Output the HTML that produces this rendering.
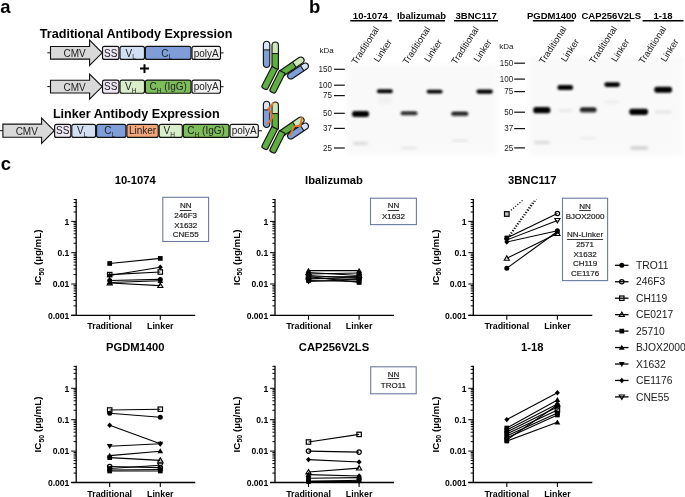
<!DOCTYPE html>
<html><head><meta charset="utf-8"><style>
html,body{margin:0;padding:0;background:#fff;width:685px;height:497px;overflow:hidden}
svg{display:block;will-change:transform}
text{font-family:"Liberation Sans", sans-serif}
</style></head><body>
<svg width="685" height="497" viewBox="0 0 685 497" font-family='"Liberation Sans", sans-serif'>
<text x="0.2" y="13.1" font-size="18.5" font-weight="bold">a</text>
<text x="309" y="12.9" font-size="18.5" font-weight="bold">b</text>
<text x="0.8" y="169.6" font-size="18.5" font-weight="bold">c</text>
<text x="39.8" y="37.5" font-size="12.6" font-weight="bold">Traditional Antibody Expression</text>
<text x="52.9" y="117.8" font-size="12.6" font-weight="bold">Linker Antibody Expression</text>
<line x1="47.3" y1="52.8" x2="50.5" y2="52.8" stroke="#111" stroke-width="1"/>
<path d="M50.5,46.449999999999996 L89.6,46.449999999999996 L89.6,40.199999999999996 L102.2,52.8 L89.6,65.39999999999999 L89.6,59.15 L50.5,59.15 Z" fill="#d9d9d9" stroke="#111" stroke-width="1.1" stroke-linejoin="miter"/>
<text x="74.55" y="57.0" font-size="10" text-anchor="middle" fill="#222">CMV</text>
<rect x="102.5" y="46.4" width="16.400000000000006" height="13.0" rx="2" ry="2" fill="#ece6f3" stroke="#111" stroke-width="1.15"/>
<text x="110.7" y="56.5" font-size="10" text-anchor="middle" fill="#222">SS</text>
<rect x="120" y="46.4" width="24.5" height="13.0" rx="2" ry="2" fill="#d3dff2" stroke="#111" stroke-width="1.15"/>
<text x="130.75" y="56.5" font-size="10" text-anchor="middle" fill="#222">V<tspan font-size="6.5" dy="2.2">L</tspan></text>
<rect x="145.4" y="46.4" width="45.599999999999994" height="13.0" rx="2" ry="2" fill="#7f9ed9" stroke="#111" stroke-width="1.15"/>
<text x="166.7" y="56.5" font-size="10" text-anchor="middle" fill="#222">C<tspan font-size="6.5" dy="2.2">L</tspan></text>
<rect x="192" y="46.4" width="28.5" height="13.0" rx="2" ry="2" fill="#f3f3f3" stroke="#111" stroke-width="1.15"/>
<text x="206.25" y="56.5" font-size="10" text-anchor="middle" fill="#222">polyA</text>
<line x1="220.5" y1="52.9" x2="223.6" y2="52.9" stroke="#111" stroke-width="1"/>
<path d="M140,67.6 H149 V69.6 H140 Z M143.5,64.2 H145.5 V72.9 H143.5 Z" fill="#000"/>
<line x1="47.3" y1="86.6" x2="50.5" y2="86.6" stroke="#111" stroke-width="1"/>
<path d="M50.5,80.25 L89.6,80.25 L89.6,74.0 L102.2,86.6 L89.6,99.19999999999999 L89.6,92.94999999999999 L50.5,92.94999999999999 Z" fill="#d9d9d9" stroke="#111" stroke-width="1.1" stroke-linejoin="miter"/>
<text x="74.55" y="90.8" font-size="10" text-anchor="middle" fill="#222">CMV</text>
<rect x="102.5" y="80.1" width="16.400000000000006" height="13.200000000000003" rx="2" ry="2" fill="#ece6f3" stroke="#111" stroke-width="1.15"/>
<text x="110.7" y="90.29999999999998" font-size="10" text-anchor="middle" fill="#222">SS</text>
<rect x="120" y="80.1" width="24.5" height="13.200000000000003" rx="2" ry="2" fill="#dbeecb" stroke="#111" stroke-width="1.15"/>
<text x="130.75" y="90.29999999999998" font-size="10" text-anchor="middle" fill="#222">V<tspan font-size="6.5" dy="2.2">H</tspan></text>
<rect x="145.4" y="80.1" width="45.6" height="13.2" rx="2" fill="#7dbd5c" stroke="#111" stroke-width="1.15"/>
<text x="168.2" y="90.3" font-size="10" text-anchor="middle" fill="#222">C<tspan font-size="6.5" dy="2.2">H</tspan><tspan dy="-2.2"> (IgG)</tspan></text>
<rect x="192" y="80.1" width="28.5" height="13.200000000000003" rx="2" ry="2" fill="#f3f3f3" stroke="#111" stroke-width="1.15"/>
<text x="206.25" y="90.29999999999998" font-size="10" text-anchor="middle" fill="#222">polyA</text>
<line x1="220.5" y1="86.7" x2="223.6" y2="86.7" stroke="#111" stroke-width="1"/>
<line x1="0" y1="130.7" x2="2.9" y2="130.7" stroke="#111" stroke-width="1"/>
<path d="M2.9,124.14999999999999 L41.6,124.14999999999999 L41.6,118.04999999999998 L54.2,130.7 L41.6,143.35 L41.6,137.25 L2.9,137.25 Z" fill="#d9d9d9" stroke="#111" stroke-width="1.1" stroke-linejoin="miter"/>
<text x="26.75" y="134.89999999999998" font-size="10" text-anchor="middle" fill="#222">CMV</text>
<rect x="54.6" y="124.3" width="16.199999999999996" height="13.100000000000009" rx="2" ry="2" fill="#ece6f3" stroke="#111" stroke-width="1.15"/>
<text x="62.7" y="134.45" font-size="10" text-anchor="middle" fill="#222">SS</text>
<rect x="71.8" y="124.3" width="23.799999999999997" height="13.100000000000009" rx="2" ry="2" fill="#d3dff2" stroke="#111" stroke-width="1.15"/>
<text x="82.19999999999999" y="134.45" font-size="10" text-anchor="middle" fill="#222">V<tspan font-size="6.5" dy="2.2">L</tspan></text>
<rect x="96.6" y="124.3" width="29.30000000000001" height="13.100000000000009" rx="2" ry="2" fill="#7f9ed9" stroke="#111" stroke-width="1.15"/>
<text x="109.75" y="134.45" font-size="10" text-anchor="middle" fill="#222">C<tspan font-size="6.5" dy="2.2">L</tspan></text>
<rect x="126.9" y="124.3" width="31.299999999999983" height="13.100000000000009" rx="2" ry="2" fill="#f2a77a" stroke="#111" stroke-width="1.15"/>
<text x="142.55" y="134.45" font-size="10" text-anchor="middle" fill="#222">Linker</text>
<rect x="159.2" y="124.3" width="23.100000000000023" height="13.100000000000009" rx="2" ry="2" fill="#dbeecb" stroke="#111" stroke-width="1.15"/>
<text x="169.25" y="134.45" font-size="10" text-anchor="middle" fill="#222">V<tspan font-size="6.5" dy="2.2">H</tspan></text>
<rect x="183.3" y="124.3" width="45.7" height="13.1" rx="2" fill="#7dbd5c" stroke="#111" stroke-width="1.15"/>
<text x="206.1" y="134.4" font-size="10" text-anchor="middle" fill="#222">C<tspan font-size="6.5" dy="2.2">H</tspan><tspan dy="-2.2"> (IgG)</tspan></text>
<rect x="230" y="124.3" width="28.30000000000001" height="13.100000000000009" rx="2" ry="2" fill="#f3f3f3" stroke="#111" stroke-width="1.15"/>
<text x="244.15" y="134.45" font-size="10" text-anchor="middle" fill="#222">polyA</text>
<line x1="258.3" y1="130.8" x2="262" y2="130.8" stroke="#111" stroke-width="1"/>
<g transform="translate(266.60,54.35) rotate(0)"><clipPath id="cp1"><path d="M-3.2,-9.95 A3.2,3.2 0 0 1 0.00,-13.15 H0.00 A3.2,3.2 0 0 1 3.20,-9.95 V9.95 A3.2,3.2 0 0 1 0.00,13.15 H0.00 A3.2,3.2 0 0 1 -3.20,9.95 Z"/></clipPath><rect x="-3.2" y="-13.15" width="6.4" height="8.70" fill="#d7e3f6" clip-path="url(#cp1)"/><rect x="-3.2" y="-4.47" width="6.4" height="17.64" fill="#7f9fd8" clip-path="url(#cp1)"/><line x1="-3.2" y1="-4.47" x2="3.2" y2="-4.47" stroke="#111" stroke-width="1"/><path d="M-3.2,-9.95 A3.2,3.2 0 0 1 0.00,-13.15 H0.00 A3.2,3.2 0 0 1 3.20,-9.95 V9.95 A3.2,3.2 0 0 1 0.00,13.15 H0.00 A3.2,3.2 0 0 1 -3.20,9.95 Z" fill="none" stroke="#111" stroke-width="1.15"/></g>
<g transform="translate(275.20,55.60) rotate(0)"><clipPath id="cp2"><path d="M-3.2,-10.40 A3.2,3.2 0 0 1 0.00,-13.60 H0.00 A3.2,3.2 0 0 1 3.20,-10.40 V13.30 A0.3,0.3 0 0 1 2.90,13.60 H-2.90 A0.3,0.3 0 0 1 -3.20,13.30 Z"/></clipPath><rect x="-3.2" y="-13.60" width="6.4" height="11.61" fill="#cbe7b7" clip-path="url(#cp2)"/><rect x="-3.2" y="-2.01" width="6.4" height="15.63" fill="#5fae40" clip-path="url(#cp2)"/><line x1="-3.2" y1="-2.01" x2="3.2" y2="-2.01" stroke="#111" stroke-width="1"/><path d="M-3.2,-10.40 A3.2,3.2 0 0 1 0.00,-13.60 H0.00 A3.2,3.2 0 0 1 3.20,-10.40 V13.30 A0.3,0.3 0 0 1 2.90,13.60 H-2.90 A0.3,0.3 0 0 1 -3.20,13.30 Z" fill="none" stroke="#111" stroke-width="1.15"/></g>
<g transform="translate(292.60,65.90) rotate(55.5)"><clipPath id="cp3"><path d="M-3.2,-10.00 A3.2,3.2 0 0 1 0.00,-13.20 H0.00 A3.2,3.2 0 0 1 3.20,-10.00 V12.90 A0.3,0.3 0 0 1 2.90,13.20 H-2.90 A0.3,0.3 0 0 1 -3.20,12.90 Z"/></clipPath><rect x="-3.2" y="-13.20" width="6.4" height="11.11" fill="#cbe7b7" clip-path="url(#cp3)"/><rect x="-3.2" y="-2.11" width="6.4" height="15.33" fill="#5fae40" clip-path="url(#cp3)"/><line x1="-3.2" y1="-2.11" x2="3.2" y2="-2.11" stroke="#111" stroke-width="1"/><path d="M-3.2,-10.00 A3.2,3.2 0 0 1 0.00,-13.20 H0.00 A3.2,3.2 0 0 1 3.20,-10.00 V12.90 A0.3,0.3 0 0 1 2.90,13.20 H-2.90 A0.3,0.3 0 0 1 -3.20,12.90 Z" fill="none" stroke="#111" stroke-width="1.15"/></g>
<g transform="translate(298.00,71.00) rotate(56.4)"><clipPath id="cp4"><path d="M-3.2,-8.70 A3.2,3.2 0 0 1 0.00,-11.90 H0.00 A3.2,3.2 0 0 1 3.20,-8.70 V8.70 A3.2,3.2 0 0 1 0.00,11.90 H0.00 A3.2,3.2 0 0 1 -3.20,8.70 Z"/></clipPath><rect x="-3.2" y="-11.90" width="6.4" height="6.92" fill="#d7e3f6" clip-path="url(#cp4)"/><rect x="-3.2" y="-5.00" width="6.4" height="16.92" fill="#7f9fd8" clip-path="url(#cp4)"/><line x1="-3.2" y1="-5.00" x2="3.2" y2="-5.00" stroke="#111" stroke-width="1"/><path d="M-3.2,-8.70 A3.2,3.2 0 0 1 0.00,-11.90 H0.00 A3.2,3.2 0 0 1 3.20,-8.70 V8.70 A3.2,3.2 0 0 1 0.00,11.90 H0.00 A3.2,3.2 0 0 1 -3.20,8.70 Z" fill="none" stroke="#111" stroke-width="1.15"/></g>
<g transform="translate(269.40,78.30) rotate(27.1)"><clipPath id="cp5"><path d="M-3.2,-11.45 A0.3,0.3 0 0 1 -2.90,-11.75 H2.90 A0.3,0.3 0 0 1 3.20,-11.45 V9.55 A2.2,2.2 0 0 1 1.00,11.75 H-1.00 A2.2,2.2 0 0 1 -3.20,9.55 Z"/></clipPath><rect x="-3.2" y="-11.75" width="6.4" height="23.52" fill="#5fae40" clip-path="url(#cp5)"/><path d="M-3.2,-11.45 A0.3,0.3 0 0 1 -2.90,-11.75 H2.90 A0.3,0.3 0 0 1 3.20,-11.45 V9.55 A2.2,2.2 0 0 1 1.00,11.75 H-1.00 A2.2,2.2 0 0 1 -3.20,9.55 Z" fill="none" stroke="#111" stroke-width="1.15"/></g>
<g transform="translate(277.20,82.10) rotate(26.7)"><clipPath id="cp6"><path d="M-3.2,-11.15 A0.3,0.3 0 0 1 -2.90,-11.45 H2.90 A0.3,0.3 0 0 1 3.20,-11.15 V9.25 A2.2,2.2 0 0 1 1.00,11.45 H-1.00 A2.2,2.2 0 0 1 -3.20,9.25 Z"/></clipPath><rect x="-3.2" y="-11.45" width="6.4" height="22.92" fill="#5fae40" clip-path="url(#cp6)"/><path d="M-3.2,-11.15 A0.3,0.3 0 0 1 -2.90,-11.45 H2.90 A0.3,0.3 0 0 1 3.20,-11.15 V9.25 A2.2,2.2 0 0 1 1.00,11.45 H-1.00 A2.2,2.2 0 0 1 -3.20,9.25 Z" fill="none" stroke="#111" stroke-width="1.15"/></g>
<g transform="translate(266.60,114.35) rotate(0)"><clipPath id="cp7"><path d="M-3.2,-9.95 A3.2,3.2 0 0 1 0.00,-13.15 H0.00 A3.2,3.2 0 0 1 3.20,-9.95 V9.95 A3.2,3.2 0 0 1 0.00,13.15 H0.00 A3.2,3.2 0 0 1 -3.20,9.95 Z"/></clipPath><rect x="-3.2" y="-13.15" width="6.4" height="8.70" fill="#d7e3f6" clip-path="url(#cp7)"/><rect x="-3.2" y="-4.47" width="6.4" height="17.64" fill="#7f9fd8" clip-path="url(#cp7)"/><line x1="-3.2" y1="-4.47" x2="3.2" y2="-4.47" stroke="#111" stroke-width="1"/><path d="M-3.2,-9.95 A3.2,3.2 0 0 1 0.00,-13.15 H0.00 A3.2,3.2 0 0 1 3.20,-9.95 V9.95 A3.2,3.2 0 0 1 0.00,13.15 H0.00 A3.2,3.2 0 0 1 -3.20,9.95 Z" fill="none" stroke="#111" stroke-width="1.15"/></g>
<g transform="translate(275.20,115.60) rotate(0)"><clipPath id="cp8"><path d="M-3.2,-10.40 A3.2,3.2 0 0 1 0.00,-13.60 H0.00 A3.2,3.2 0 0 1 3.20,-10.40 V13.30 A0.3,0.3 0 0 1 2.90,13.60 H-2.90 A0.3,0.3 0 0 1 -3.20,13.30 Z"/></clipPath><rect x="-3.2" y="-13.60" width="6.4" height="11.61" fill="#cbe7b7" clip-path="url(#cp8)"/><rect x="-3.2" y="-2.01" width="6.4" height="15.63" fill="#5fae40" clip-path="url(#cp8)"/><line x1="-3.2" y1="-2.01" x2="3.2" y2="-2.01" stroke="#111" stroke-width="1"/><path d="M-3.2,-10.40 A3.2,3.2 0 0 1 0.00,-13.60 H0.00 A3.2,3.2 0 0 1 3.20,-10.40 V13.30 A0.3,0.3 0 0 1 2.90,13.60 H-2.90 A0.3,0.3 0 0 1 -3.20,13.30 Z" fill="none" stroke="#111" stroke-width="1.15"/></g>
<g transform="translate(292.60,125.90) rotate(55.5)"><clipPath id="cp9"><path d="M-3.2,-10.00 A3.2,3.2 0 0 1 0.00,-13.20 H0.00 A3.2,3.2 0 0 1 3.20,-10.00 V12.90 A0.3,0.3 0 0 1 2.90,13.20 H-2.90 A0.3,0.3 0 0 1 -3.20,12.90 Z"/></clipPath><rect x="-3.2" y="-13.20" width="6.4" height="11.11" fill="#cbe7b7" clip-path="url(#cp9)"/><rect x="-3.2" y="-2.11" width="6.4" height="15.33" fill="#5fae40" clip-path="url(#cp9)"/><line x1="-3.2" y1="-2.11" x2="3.2" y2="-2.11" stroke="#111" stroke-width="1"/><path d="M-3.2,-10.00 A3.2,3.2 0 0 1 0.00,-13.20 H0.00 A3.2,3.2 0 0 1 3.20,-10.00 V12.90 A0.3,0.3 0 0 1 2.90,13.20 H-2.90 A0.3,0.3 0 0 1 -3.20,12.90 Z" fill="none" stroke="#111" stroke-width="1.15"/></g>
<g transform="translate(298.00,131.00) rotate(56.4)"><clipPath id="cp10"><path d="M-3.2,-8.70 A3.2,3.2 0 0 1 0.00,-11.90 H0.00 A3.2,3.2 0 0 1 3.20,-8.70 V8.70 A3.2,3.2 0 0 1 0.00,11.90 H0.00 A3.2,3.2 0 0 1 -3.20,8.70 Z"/></clipPath><rect x="-3.2" y="-11.90" width="6.4" height="6.92" fill="#d7e3f6" clip-path="url(#cp10)"/><rect x="-3.2" y="-5.00" width="6.4" height="16.92" fill="#7f9fd8" clip-path="url(#cp10)"/><line x1="-3.2" y1="-5.00" x2="3.2" y2="-5.00" stroke="#111" stroke-width="1"/><path d="M-3.2,-8.70 A3.2,3.2 0 0 1 0.00,-11.90 H0.00 A3.2,3.2 0 0 1 3.20,-8.70 V8.70 A3.2,3.2 0 0 1 0.00,11.90 H0.00 A3.2,3.2 0 0 1 -3.20,8.70 Z" fill="none" stroke="#111" stroke-width="1.15"/></g>
<g transform="translate(269.40,138.30) rotate(27.1)"><clipPath id="cp11"><path d="M-3.2,-11.45 A0.3,0.3 0 0 1 -2.90,-11.75 H2.90 A0.3,0.3 0 0 1 3.20,-11.45 V9.55 A2.2,2.2 0 0 1 1.00,11.75 H-1.00 A2.2,2.2 0 0 1 -3.20,9.55 Z"/></clipPath><rect x="-3.2" y="-11.75" width="6.4" height="23.52" fill="#5fae40" clip-path="url(#cp11)"/><path d="M-3.2,-11.45 A0.3,0.3 0 0 1 -2.90,-11.75 H2.90 A0.3,0.3 0 0 1 3.20,-11.45 V9.55 A2.2,2.2 0 0 1 1.00,11.75 H-1.00 A2.2,2.2 0 0 1 -3.20,9.55 Z" fill="none" stroke="#111" stroke-width="1.15"/></g>
<g transform="translate(277.20,142.10) rotate(26.7)"><clipPath id="cp12"><path d="M-3.2,-11.15 A0.3,0.3 0 0 1 -2.90,-11.45 H2.90 A0.3,0.3 0 0 1 3.20,-11.15 V9.25 A2.2,2.2 0 0 1 1.00,11.45 H-1.00 A2.2,2.2 0 0 1 -3.20,9.25 Z"/></clipPath><rect x="-3.2" y="-11.45" width="6.4" height="22.92" fill="#5fae40" clip-path="url(#cp12)"/><path d="M-3.2,-11.15 A0.3,0.3 0 0 1 -2.90,-11.45 H2.90 A0.3,0.3 0 0 1 3.20,-11.15 V9.25 A2.2,2.2 0 0 1 1.00,11.45 H-1.00 A2.2,2.2 0 0 1 -3.20,9.25 Z" fill="none" stroke="#111" stroke-width="1.15"/></g>
<path d="M273.8,102.5 L268.4,108.9 L273.2,116.7 L267.1,124.4" fill="none" stroke="#e4742a" stroke-width="1.9" stroke-linejoin="miter"/>
<path d="M302.1,117.1 L300.2,125.8 L294.1,126.4 L289.9,135.8" fill="none" stroke="#e4742a" stroke-width="1.9" stroke-linejoin="miter"/>
<defs><filter id="bl" x="-50%" y="-100%" width="200%" height="300%"><feGaussianBlur stdDeviation="0.95"/></filter><filter id="bl2" x="-50%" y="-100%" width="200%" height="300%"><feGaussianBlur stdDeviation="1.6"/></filter><filter id="bg" x="-10%" y="-10%" width="120%" height="120%"><feGaussianBlur stdDeviation="2"/></filter><linearGradient id="gb" x1="0" y1="0" x2="0" y2="1"><stop offset="0" stop-color="#000"/><stop offset="0.5" stop-color="#1a1a1a"/><stop offset="1" stop-color="#6a6a6a"/></linearGradient></defs>
<rect x="347" y="64.5" width="150" height="90" fill="#f9f9f9" filter="url(#bg)"/>
<rect x="529" y="57" width="154" height="98" fill="#f9f9f9" filter="url(#bg)"/>
<rect x="352.00" y="111.05" width="17.10" height="5.90" rx="2.60" ry="2.95" fill="#000" opacity="1" filter="url(#bl)"/>
<rect x="376.90" y="89.20" width="15.90" height="4.00" rx="2.00" ry="2.00" fill="#000" opacity="1" filter="url(#bl)"/>
<rect x="378.20" y="95.70" width="13.60" height="8.60" rx="2.60" ry="4.30" fill="#ececec" opacity="0.6" filter="url(#bl2)"/>
<rect x="353.20" y="142.45" width="14.60" height="2.10" rx="1.05" ry="1.05" fill="#999" opacity="0.5" filter="url(#bl2)"/>
<rect x="400.60" y="111.50" width="16.90" height="4.00" rx="2.00" ry="2.00" fill="url(#gb)" opacity="1" filter="url(#bl)"/>
<rect x="426.60" y="89.65" width="16.00" height="3.90" rx="1.95" ry="1.95" fill="#000" opacity="1" filter="url(#bl)"/>
<rect x="401.20" y="147.20" width="15.60" height="1.60" rx="0.80" ry="0.80" fill="#aaa" opacity="0.4" filter="url(#bl2)"/>
<rect x="451.20" y="111.70" width="17.20" height="4.60" rx="2.30" ry="2.30" fill="url(#gb)" opacity="1" filter="url(#bl)"/>
<rect x="476.40" y="89.45" width="16.50" height="4.30" rx="2.15" ry="2.15" fill="#000" opacity="1" filter="url(#bl)"/>
<rect x="452.20" y="139.70" width="15.60" height="1.60" rx="0.80" ry="0.80" fill="#aaa" opacity="0.4" filter="url(#bl2)"/>
<rect x="533.20" y="107.10" width="17.20" height="6.20" rx="2.60" ry="3.10" fill="#000" opacity="1" filter="url(#bl)"/>
<rect x="557.40" y="84.90" width="15.70" height="5.00" rx="2.50" ry="2.50" fill="#000" opacity="1" filter="url(#bl)"/>
<rect x="558.20" y="109.45" width="14.10" height="2.10" rx="1.05" ry="1.05" fill="#bbb" opacity="0.4" filter="url(#bl2)"/>
<rect x="534.20" y="141.45" width="15.60" height="2.10" rx="1.05" ry="1.05" fill="#999" opacity="0.5" filter="url(#bl2)"/>
<rect x="579.80" y="107.50" width="16.80" height="5.20" rx="2.60" ry="2.60" fill="url(#gb)" opacity="1" filter="url(#bl)"/>
<rect x="604.30" y="82.20" width="15.70" height="4.80" rx="2.40" ry="2.40" fill="#000" opacity="1" filter="url(#bl)"/>
<rect x="604.20" y="100.70" width="15.10" height="2.60" rx="1.30" ry="1.30" fill="#ccc" opacity="0.35" filter="url(#bl2)"/>
<rect x="580.20" y="137.20" width="15.60" height="1.60" rx="0.80" ry="0.80" fill="#bbb" opacity="0.35" filter="url(#bl2)"/>
<rect x="629.20" y="108.70" width="18.90" height="6.20" rx="2.60" ry="3.10" fill="#000" opacity="1" filter="url(#bl)"/>
<rect x="654.20" y="86.80" width="17.90" height="6.00" rx="2.60" ry="3.00" fill="#000" opacity="1" filter="url(#bl)"/>
<rect x="655.20" y="110.95" width="16.60" height="2.10" rx="1.05" ry="1.05" fill="#aaa" opacity="0.4" filter="url(#bl2)"/>
<rect x="630.20" y="146.70" width="17.60" height="2.60" rx="1.30" ry="1.30" fill="#888" opacity="0.5" filter="url(#bl2)"/>
<text x="319.5" y="52.5" font-size="8" fill="#1a1a1a">kDa</text>
<text x="332.0" y="71.80" font-size="8.1" text-anchor="end" fill="#1a1a1a" transform="translate(0,69.30) scale(1,1.12) translate(0,-69.30)">150</text>
<line x1="334" y1="69.3" x2="344.8" y2="69.3" stroke="#111" stroke-width="1.2"/>
<text x="332.0" y="87.70" font-size="8.1" text-anchor="end" fill="#1a1a1a" transform="translate(0,85.20) scale(1,1.12) translate(0,-85.20)">100</text>
<line x1="334" y1="85.2" x2="344.8" y2="85.2" stroke="#111" stroke-width="1.2"/>
<text x="332.0" y="98.10" font-size="8.1" text-anchor="end" fill="#1a1a1a" transform="translate(0,95.60) scale(1,1.12) translate(0,-95.60)">75</text>
<line x1="334" y1="95.6" x2="344.8" y2="95.6" stroke="#111" stroke-width="1.2"/>
<text x="332.0" y="115.80" font-size="8.1" text-anchor="end" fill="#1a1a1a" transform="translate(0,113.30) scale(1,1.12) translate(0,-113.30)">50</text>
<line x1="334" y1="113.3" x2="344.8" y2="113.3" stroke="#111" stroke-width="1.2"/>
<text x="332.0" y="130.90" font-size="8.1" text-anchor="end" fill="#1a1a1a" transform="translate(0,128.40) scale(1,1.12) translate(0,-128.40)">37</text>
<line x1="334" y1="128.4" x2="344.8" y2="128.4" stroke="#111" stroke-width="1.2"/>
<text x="332.0" y="150.50" font-size="8.1" text-anchor="end" fill="#1a1a1a" transform="translate(0,148.00) scale(1,1.12) translate(0,-148.00)">25</text>
<line x1="334" y1="148" x2="344.8" y2="148" stroke="#111" stroke-width="1.2"/>
<text x="499.19999999999993" y="48.8" font-size="8" fill="#1a1a1a">kDa</text>
<text x="513.3" y="65.70" font-size="8.1" text-anchor="end" fill="#1a1a1a" transform="translate(0,63.20) scale(1,1.12) translate(0,-63.20)">150</text>
<line x1="514.2" y1="63.2" x2="525" y2="63.2" stroke="#111" stroke-width="1.2"/>
<text x="513.3" y="81.60" font-size="8.1" text-anchor="end" fill="#1a1a1a" transform="translate(0,79.10) scale(1,1.12) translate(0,-79.10)">100</text>
<line x1="514.2" y1="79.1" x2="525" y2="79.1" stroke="#111" stroke-width="1.2"/>
<text x="513.3" y="94.10" font-size="8.1" text-anchor="end" fill="#1a1a1a" transform="translate(0,91.60) scale(1,1.12) translate(0,-91.60)">75</text>
<line x1="514.2" y1="91.6" x2="525" y2="91.6" stroke="#111" stroke-width="1.2"/>
<text x="513.3" y="114.70" font-size="8.1" text-anchor="end" fill="#1a1a1a" transform="translate(0,112.20) scale(1,1.12) translate(0,-112.20)">50</text>
<line x1="514.2" y1="112.2" x2="525" y2="112.2" stroke="#111" stroke-width="1.2"/>
<text x="513.3" y="131.10" font-size="8.1" text-anchor="end" fill="#1a1a1a" transform="translate(0,128.60) scale(1,1.12) translate(0,-128.60)">37</text>
<line x1="514.2" y1="128.6" x2="525" y2="128.6" stroke="#111" stroke-width="1.2"/>
<text x="513.3" y="150.40" font-size="8.1" text-anchor="end" fill="#1a1a1a" transform="translate(0,147.90) scale(1,1.12) translate(0,-147.90)">25</text>
<line x1="514.2" y1="147.9" x2="525" y2="147.9" stroke="#111" stroke-width="1.2"/>
<text x="370.3" y="18.5" font-size="9.5" font-weight="bold" text-anchor="middle">10-1074</text>
<line x1="350.2" y1="20.7" x2="391.8" y2="20.7" stroke="#000" stroke-width="1.4"/>
<text x="421.5" y="18.5" font-size="9.5" font-weight="bold" text-anchor="middle">Ibalizumab</text>
<line x1="399" y1="20.7" x2="445" y2="20.7" stroke="#000" stroke-width="1.4"/>
<text x="476.15" y="18.5" font-size="9.5" font-weight="bold" text-anchor="middle">3BNC117</text>
<line x1="454" y1="20.7" x2="498" y2="20.7" stroke="#000" stroke-width="1.4"/>
<text x="551.8499999999999" y="18.5" font-size="9.5" font-weight="bold" text-anchor="middle">PGDM1400</text>
<line x1="532.8" y1="20.7" x2="573.9" y2="20.7" stroke="#000" stroke-width="1.4"/>
<text x="611.35" y="18.5" font-size="9.5" font-weight="bold" text-anchor="middle">CAP256V2LS</text>
<line x1="590" y1="20.7" x2="630.4" y2="20.7" stroke="#000" stroke-width="1.4"/>
<text x="663.0" y="18.5" font-size="9.5" font-weight="bold" text-anchor="middle">1-18</text>
<line x1="642.6" y1="20.7" x2="683.5" y2="20.7" stroke="#000" stroke-width="1.4"/>
<text transform="translate(356.2,64.9) rotate(-57)" font-size="9.2" fill="#111">Traditional</text>
<text transform="translate(407.4,64.9) rotate(-57)" font-size="9.2" fill="#111">Traditional</text>
<text transform="translate(456,64.9) rotate(-57)" font-size="9.2" fill="#111">Traditional</text>
<text transform="translate(378.6,62.8) rotate(-57)" font-size="9.2" fill="#111">Linker</text>
<text transform="translate(428.9,62.8) rotate(-57)" font-size="9.2" fill="#111">Linker</text>
<text transform="translate(478.4,62.8) rotate(-57)" font-size="9.2" fill="#111">Linker</text>
<text transform="translate(543.8,64.5) rotate(-57)" font-size="9.2" fill="#111">Traditional</text>
<text transform="translate(594.1,64.5) rotate(-57)" font-size="9.2" fill="#111">Traditional</text>
<text transform="translate(643.4,64.5) rotate(-57)" font-size="9.2" fill="#111">Traditional</text>
<text transform="translate(565.7,62.5) rotate(-57)" font-size="9.2" fill="#111">Linker</text>
<text transform="translate(616.1,62.5) rotate(-57)" font-size="9.2" fill="#111">Linker</text>
<text transform="translate(665.4,62.5) rotate(-57)" font-size="9.2" fill="#111">Linker</text>
<text x="135.2" y="184.10" font-size="11.2" font-weight="bold" text-anchor="middle">10-1074</text>
<line x1="76.2" y1="198.92" x2="76.2" y2="315.3" stroke="#000" stroke-width="1.3"/>
<line x1="71.2" y1="315.3" x2="195.2" y2="315.3" stroke="#000" stroke-width="1.3"/>
<line x1="71.2" y1="315.30" x2="76.2" y2="315.30" stroke="#000" stroke-width="1"/>
<line x1="73.60000000000001" y1="305.88" x2="76.2" y2="305.88" stroke="#000" stroke-width="1"/>
<line x1="73.60000000000001" y1="300.37" x2="76.2" y2="300.37" stroke="#000" stroke-width="1"/>
<line x1="73.60000000000001" y1="296.46" x2="76.2" y2="296.46" stroke="#000" stroke-width="1"/>
<line x1="73.60000000000001" y1="293.42" x2="76.2" y2="293.42" stroke="#000" stroke-width="1"/>
<line x1="73.60000000000001" y1="290.94" x2="76.2" y2="290.94" stroke="#000" stroke-width="1"/>
<line x1="73.60000000000001" y1="288.85" x2="76.2" y2="288.85" stroke="#000" stroke-width="1"/>
<line x1="73.60000000000001" y1="287.03" x2="76.2" y2="287.03" stroke="#000" stroke-width="1"/>
<line x1="73.60000000000001" y1="285.43" x2="76.2" y2="285.43" stroke="#000" stroke-width="1"/>
<line x1="71.2" y1="284.00" x2="76.2" y2="284.00" stroke="#000" stroke-width="1"/>
<line x1="73.60000000000001" y1="274.58" x2="76.2" y2="274.58" stroke="#000" stroke-width="1"/>
<line x1="73.60000000000001" y1="269.07" x2="76.2" y2="269.07" stroke="#000" stroke-width="1"/>
<line x1="73.60000000000001" y1="265.16" x2="76.2" y2="265.16" stroke="#000" stroke-width="1"/>
<line x1="73.60000000000001" y1="262.12" x2="76.2" y2="262.12" stroke="#000" stroke-width="1"/>
<line x1="73.60000000000001" y1="259.64" x2="76.2" y2="259.64" stroke="#000" stroke-width="1"/>
<line x1="73.60000000000001" y1="257.55" x2="76.2" y2="257.55" stroke="#000" stroke-width="1"/>
<line x1="73.60000000000001" y1="255.73" x2="76.2" y2="255.73" stroke="#000" stroke-width="1"/>
<line x1="73.60000000000001" y1="254.13" x2="76.2" y2="254.13" stroke="#000" stroke-width="1"/>
<line x1="71.2" y1="252.70" x2="76.2" y2="252.70" stroke="#000" stroke-width="1"/>
<line x1="73.60000000000001" y1="243.28" x2="76.2" y2="243.28" stroke="#000" stroke-width="1"/>
<line x1="73.60000000000001" y1="237.77" x2="76.2" y2="237.77" stroke="#000" stroke-width="1"/>
<line x1="73.60000000000001" y1="233.86" x2="76.2" y2="233.86" stroke="#000" stroke-width="1"/>
<line x1="73.60000000000001" y1="230.82" x2="76.2" y2="230.82" stroke="#000" stroke-width="1"/>
<line x1="73.60000000000001" y1="228.34" x2="76.2" y2="228.34" stroke="#000" stroke-width="1"/>
<line x1="73.60000000000001" y1="226.25" x2="76.2" y2="226.25" stroke="#000" stroke-width="1"/>
<line x1="73.60000000000001" y1="224.43" x2="76.2" y2="224.43" stroke="#000" stroke-width="1"/>
<line x1="73.60000000000001" y1="222.83" x2="76.2" y2="222.83" stroke="#000" stroke-width="1"/>
<line x1="71.2" y1="221.40" x2="76.2" y2="221.40" stroke="#000" stroke-width="1"/>
<line x1="73.60000000000001" y1="211.98" x2="76.2" y2="211.98" stroke="#000" stroke-width="1"/>
<line x1="73.60000000000001" y1="206.47" x2="76.2" y2="206.47" stroke="#000" stroke-width="1"/>
<line x1="73.60000000000001" y1="202.56" x2="76.2" y2="202.56" stroke="#000" stroke-width="1"/>
<line x1="73.60000000000001" y1="199.52" x2="76.2" y2="199.52" stroke="#000" stroke-width="1"/>
<text x="69.4" y="318.50" font-size="8.6" font-weight="bold" text-anchor="end">0.001</text>
<text x="69.4" y="287.20" font-size="8.6" font-weight="bold" text-anchor="end">0.01</text>
<text x="69.4" y="255.90" font-size="8.6" font-weight="bold" text-anchor="end">0.1</text>
<text x="69.4" y="224.60" font-size="8.6" font-weight="bold" text-anchor="end">1</text>
<line x1="109.7" y1="315.3" x2="109.7" y2="319.8" stroke="#000" stroke-width="1.1"/>
<line x1="160.3" y1="315.3" x2="160.3" y2="319.8" stroke="#000" stroke-width="1.1"/>
<text x="109.7" y="329.30" font-size="8.85" font-weight="bold" text-anchor="middle">Traditional</text>
<text x="160.3" y="329.30" font-size="8.85" font-weight="bold" text-anchor="middle">Linker</text>
<text transform="translate(41.400000000000006,257.41) rotate(-90)" font-size="9.8" font-weight="bold" text-anchor="middle">IC<tspan font-size="7" dy="2.2">50</tspan><tspan dy="-2.2"> (µg/mL)</tspan></text>
<line x1="109.7" y1="263.5" x2="160.3" y2="258.4" stroke="#000" stroke-width="1.1"/>
<line x1="109.7" y1="275.5" x2="160.3" y2="267.3" stroke="#000" stroke-width="1.1"/>
<line x1="109.7" y1="274.6" x2="160.3" y2="272" stroke="#000" stroke-width="1.1"/>
<line x1="109.7" y1="280.5" x2="160.3" y2="279.4" stroke="#000" stroke-width="1.1"/>
<line x1="109.7" y1="283" x2="160.3" y2="285.6" stroke="#000" stroke-width="1.1"/>
<line x1="109.7" y1="282.5" x2="160.3" y2="280.8" stroke="#000" stroke-width="1.1"/>
<rect x="107.35" y="261.15" width="4.7" height="4.7" fill="#000"/>
<rect x="157.95" y="256.05" width="4.7" height="4.7" fill="#000"/>
<path d="M109.7,272.80 L112.20,275.5 L109.7,278.20 L107.20,275.5 Z" fill="#000"/>
<path d="M160.3,264.60 L162.80,267.3 L160.3,270.00 L157.80,267.3 Z" fill="#000"/>
<rect x="107.50" y="272.40" width="4.4" height="4.4" fill="none" stroke="#000" stroke-width="1.2"/>
<rect x="158.10" y="269.80" width="4.4" height="4.4" fill="none" stroke="#000" stroke-width="1.2"/>
<circle cx="109.7" cy="280.5" r="2.5" fill="#000"/>
<circle cx="160.3" cy="279.4" r="2.5" fill="#000"/>
<path d="M109.7,280.50 L112.30,284.90 L107.10,284.90 Z" fill="none" stroke="#000" stroke-width="1.1" stroke-linejoin="miter"/>
<path d="M160.3,283.10 L162.90,287.50 L157.70,287.50 Z" fill="none" stroke="#000" stroke-width="1.1" stroke-linejoin="miter"/>
<path d="M109.7,279.60 L112.60,284.60 L106.80,284.60 Z" fill="#000"/>
<path d="M160.3,277.90 L163.20,282.90 L157.40,282.90 Z" fill="#000"/>
<text x="334" y="184.10" font-size="11.2" font-weight="bold" text-anchor="middle">Ibalizumab</text>
<line x1="275" y1="198.92" x2="275" y2="315.3" stroke="#000" stroke-width="1.3"/>
<line x1="270" y1="315.3" x2="394" y2="315.3" stroke="#000" stroke-width="1.3"/>
<line x1="270" y1="315.30" x2="275" y2="315.30" stroke="#000" stroke-width="1"/>
<line x1="272.4" y1="305.88" x2="275" y2="305.88" stroke="#000" stroke-width="1"/>
<line x1="272.4" y1="300.37" x2="275" y2="300.37" stroke="#000" stroke-width="1"/>
<line x1="272.4" y1="296.46" x2="275" y2="296.46" stroke="#000" stroke-width="1"/>
<line x1="272.4" y1="293.42" x2="275" y2="293.42" stroke="#000" stroke-width="1"/>
<line x1="272.4" y1="290.94" x2="275" y2="290.94" stroke="#000" stroke-width="1"/>
<line x1="272.4" y1="288.85" x2="275" y2="288.85" stroke="#000" stroke-width="1"/>
<line x1="272.4" y1="287.03" x2="275" y2="287.03" stroke="#000" stroke-width="1"/>
<line x1="272.4" y1="285.43" x2="275" y2="285.43" stroke="#000" stroke-width="1"/>
<line x1="270" y1="284.00" x2="275" y2="284.00" stroke="#000" stroke-width="1"/>
<line x1="272.4" y1="274.58" x2="275" y2="274.58" stroke="#000" stroke-width="1"/>
<line x1="272.4" y1="269.07" x2="275" y2="269.07" stroke="#000" stroke-width="1"/>
<line x1="272.4" y1="265.16" x2="275" y2="265.16" stroke="#000" stroke-width="1"/>
<line x1="272.4" y1="262.12" x2="275" y2="262.12" stroke="#000" stroke-width="1"/>
<line x1="272.4" y1="259.64" x2="275" y2="259.64" stroke="#000" stroke-width="1"/>
<line x1="272.4" y1="257.55" x2="275" y2="257.55" stroke="#000" stroke-width="1"/>
<line x1="272.4" y1="255.73" x2="275" y2="255.73" stroke="#000" stroke-width="1"/>
<line x1="272.4" y1="254.13" x2="275" y2="254.13" stroke="#000" stroke-width="1"/>
<line x1="270" y1="252.70" x2="275" y2="252.70" stroke="#000" stroke-width="1"/>
<line x1="272.4" y1="243.28" x2="275" y2="243.28" stroke="#000" stroke-width="1"/>
<line x1="272.4" y1="237.77" x2="275" y2="237.77" stroke="#000" stroke-width="1"/>
<line x1="272.4" y1="233.86" x2="275" y2="233.86" stroke="#000" stroke-width="1"/>
<line x1="272.4" y1="230.82" x2="275" y2="230.82" stroke="#000" stroke-width="1"/>
<line x1="272.4" y1="228.34" x2="275" y2="228.34" stroke="#000" stroke-width="1"/>
<line x1="272.4" y1="226.25" x2="275" y2="226.25" stroke="#000" stroke-width="1"/>
<line x1="272.4" y1="224.43" x2="275" y2="224.43" stroke="#000" stroke-width="1"/>
<line x1="272.4" y1="222.83" x2="275" y2="222.83" stroke="#000" stroke-width="1"/>
<line x1="270" y1="221.40" x2="275" y2="221.40" stroke="#000" stroke-width="1"/>
<line x1="272.4" y1="211.98" x2="275" y2="211.98" stroke="#000" stroke-width="1"/>
<line x1="272.4" y1="206.47" x2="275" y2="206.47" stroke="#000" stroke-width="1"/>
<line x1="272.4" y1="202.56" x2="275" y2="202.56" stroke="#000" stroke-width="1"/>
<line x1="272.4" y1="199.52" x2="275" y2="199.52" stroke="#000" stroke-width="1"/>
<text x="268.2" y="318.50" font-size="8.6" font-weight="bold" text-anchor="end">0.001</text>
<text x="268.2" y="287.20" font-size="8.6" font-weight="bold" text-anchor="end">0.01</text>
<text x="268.2" y="255.90" font-size="8.6" font-weight="bold" text-anchor="end">0.1</text>
<text x="268.2" y="224.60" font-size="8.6" font-weight="bold" text-anchor="end">1</text>
<line x1="308.5" y1="315.3" x2="308.5" y2="319.8" stroke="#000" stroke-width="1.1"/>
<line x1="359.1" y1="315.3" x2="359.1" y2="319.8" stroke="#000" stroke-width="1.1"/>
<text x="308.5" y="329.30" font-size="8.85" font-weight="bold" text-anchor="middle">Traditional</text>
<text x="359.1" y="329.30" font-size="8.85" font-weight="bold" text-anchor="middle">Linker</text>
<text transform="translate(240.2,257.41) rotate(-90)" font-size="9.8" font-weight="bold" text-anchor="middle">IC<tspan font-size="7" dy="2.2">50</tspan><tspan dy="-2.2"> (µg/mL)</tspan></text>
<line x1="308.5" y1="270.6" x2="359.1" y2="270.6" stroke="#000" stroke-width="1.1"/>
<line x1="308.5" y1="272.5" x2="359.1" y2="275.5" stroke="#000" stroke-width="1.1"/>
<line x1="308.5" y1="274" x2="359.1" y2="273" stroke="#000" stroke-width="1.1"/>
<line x1="308.5" y1="275.5" x2="359.1" y2="278.5" stroke="#000" stroke-width="1.1"/>
<line x1="308.5" y1="277" x2="359.1" y2="276.5" stroke="#000" stroke-width="1.1"/>
<line x1="308.5" y1="278" x2="359.1" y2="280" stroke="#000" stroke-width="1.1"/>
<line x1="308.5" y1="279" x2="359.1" y2="277.5" stroke="#000" stroke-width="1.1"/>
<line x1="308.5" y1="280.5" x2="359.1" y2="281.5" stroke="#000" stroke-width="1.1"/>
<line x1="308.5" y1="281.5" x2="359.1" y2="279.5" stroke="#000" stroke-width="1.1"/>
<line x1="308.5" y1="276.5" x2="359.1" y2="282.5" stroke="#000" stroke-width="1.1"/>
<path d="M308.5,267.70 L311.40,272.70 L305.60,272.70 Z" fill="#000"/>
<path d="M359.1,267.70 L362.00,272.70 L356.20,272.70 Z" fill="#000"/>
<path d="M308.5,270.00 L311.10,274.40 L305.90,274.40 Z" fill="none" stroke="#000" stroke-width="1.1" stroke-linejoin="miter"/>
<path d="M359.1,273.00 L361.70,277.40 L356.50,277.40 Z" fill="none" stroke="#000" stroke-width="1.1" stroke-linejoin="miter"/>
<circle cx="308.5" cy="274" r="2.5" fill="#000"/>
<circle cx="359.1" cy="273" r="2.5" fill="#000"/>
<path d="M308.5,272.80 L311.00,275.5 L308.5,278.20 L306.00,275.5 Z" fill="#000"/>
<path d="M359.1,275.80 L361.60,278.5 L359.1,281.20 L356.60,278.5 Z" fill="#000"/>
<rect x="306.30" y="274.80" width="4.4" height="4.4" fill="none" stroke="#000" stroke-width="1.2"/>
<rect x="356.90" y="274.30" width="4.4" height="4.4" fill="none" stroke="#000" stroke-width="1.2"/>
<circle cx="308.5" cy="278" r="2.5" fill="#000"/>
<path d="M359.1,282.90 L362.00,277.90 L356.20,277.90 Z" fill="#000"/>
<circle cx="308.5" cy="279" r="2.2" fill="none" stroke="#000" stroke-width="1.2"/>
<circle cx="359.1" cy="277.5" r="2.2" fill="none" stroke="#000" stroke-width="1.2"/>
<rect x="306.15" y="278.15" width="4.7" height="4.7" fill="#000"/>
<rect x="356.75" y="279.15" width="4.7" height="4.7" fill="#000"/>
<path d="M308.5,284.40 L311.40,279.40 L305.60,279.40 Z" fill="#000"/>
<circle cx="359.1" cy="279.5" r="2.5" fill="#000"/>
<path d="M308.5,273.60 L311.40,278.60 L305.60,278.60 Z" fill="#000"/>
<rect x="356.75" y="280.15" width="4.7" height="4.7" fill="#000"/>
<text x="532.3" y="184.10" font-size="11.2" font-weight="bold" text-anchor="middle">3BNC117</text>
<line x1="473.3" y1="198.92" x2="473.3" y2="315.3" stroke="#000" stroke-width="1.3"/>
<line x1="468.3" y1="315.3" x2="592.3" y2="315.3" stroke="#000" stroke-width="1.3"/>
<line x1="468.3" y1="315.30" x2="473.3" y2="315.30" stroke="#000" stroke-width="1"/>
<line x1="470.7" y1="305.88" x2="473.3" y2="305.88" stroke="#000" stroke-width="1"/>
<line x1="470.7" y1="300.37" x2="473.3" y2="300.37" stroke="#000" stroke-width="1"/>
<line x1="470.7" y1="296.46" x2="473.3" y2="296.46" stroke="#000" stroke-width="1"/>
<line x1="470.7" y1="293.42" x2="473.3" y2="293.42" stroke="#000" stroke-width="1"/>
<line x1="470.7" y1="290.94" x2="473.3" y2="290.94" stroke="#000" stroke-width="1"/>
<line x1="470.7" y1="288.85" x2="473.3" y2="288.85" stroke="#000" stroke-width="1"/>
<line x1="470.7" y1="287.03" x2="473.3" y2="287.03" stroke="#000" stroke-width="1"/>
<line x1="470.7" y1="285.43" x2="473.3" y2="285.43" stroke="#000" stroke-width="1"/>
<line x1="468.3" y1="284.00" x2="473.3" y2="284.00" stroke="#000" stroke-width="1"/>
<line x1="470.7" y1="274.58" x2="473.3" y2="274.58" stroke="#000" stroke-width="1"/>
<line x1="470.7" y1="269.07" x2="473.3" y2="269.07" stroke="#000" stroke-width="1"/>
<line x1="470.7" y1="265.16" x2="473.3" y2="265.16" stroke="#000" stroke-width="1"/>
<line x1="470.7" y1="262.12" x2="473.3" y2="262.12" stroke="#000" stroke-width="1"/>
<line x1="470.7" y1="259.64" x2="473.3" y2="259.64" stroke="#000" stroke-width="1"/>
<line x1="470.7" y1="257.55" x2="473.3" y2="257.55" stroke="#000" stroke-width="1"/>
<line x1="470.7" y1="255.73" x2="473.3" y2="255.73" stroke="#000" stroke-width="1"/>
<line x1="470.7" y1="254.13" x2="473.3" y2="254.13" stroke="#000" stroke-width="1"/>
<line x1="468.3" y1="252.70" x2="473.3" y2="252.70" stroke="#000" stroke-width="1"/>
<line x1="470.7" y1="243.28" x2="473.3" y2="243.28" stroke="#000" stroke-width="1"/>
<line x1="470.7" y1="237.77" x2="473.3" y2="237.77" stroke="#000" stroke-width="1"/>
<line x1="470.7" y1="233.86" x2="473.3" y2="233.86" stroke="#000" stroke-width="1"/>
<line x1="470.7" y1="230.82" x2="473.3" y2="230.82" stroke="#000" stroke-width="1"/>
<line x1="470.7" y1="228.34" x2="473.3" y2="228.34" stroke="#000" stroke-width="1"/>
<line x1="470.7" y1="226.25" x2="473.3" y2="226.25" stroke="#000" stroke-width="1"/>
<line x1="470.7" y1="224.43" x2="473.3" y2="224.43" stroke="#000" stroke-width="1"/>
<line x1="470.7" y1="222.83" x2="473.3" y2="222.83" stroke="#000" stroke-width="1"/>
<line x1="468.3" y1="221.40" x2="473.3" y2="221.40" stroke="#000" stroke-width="1"/>
<line x1="470.7" y1="211.98" x2="473.3" y2="211.98" stroke="#000" stroke-width="1"/>
<line x1="470.7" y1="206.47" x2="473.3" y2="206.47" stroke="#000" stroke-width="1"/>
<line x1="470.7" y1="202.56" x2="473.3" y2="202.56" stroke="#000" stroke-width="1"/>
<line x1="470.7" y1="199.52" x2="473.3" y2="199.52" stroke="#000" stroke-width="1"/>
<text x="466.5" y="318.50" font-size="8.6" font-weight="bold" text-anchor="end">0.001</text>
<text x="466.5" y="287.20" font-size="8.6" font-weight="bold" text-anchor="end">0.01</text>
<text x="466.5" y="255.90" font-size="8.6" font-weight="bold" text-anchor="end">0.1</text>
<text x="466.5" y="224.60" font-size="8.6" font-weight="bold" text-anchor="end">1</text>
<line x1="506.8" y1="315.3" x2="506.8" y2="319.8" stroke="#000" stroke-width="1.1"/>
<line x1="557.4" y1="315.3" x2="557.4" y2="319.8" stroke="#000" stroke-width="1.1"/>
<text x="506.8" y="329.30" font-size="8.85" font-weight="bold" text-anchor="middle">Traditional</text>
<text x="557.4" y="329.30" font-size="8.85" font-weight="bold" text-anchor="middle">Linker</text>
<text transform="translate(438.5,257.41) rotate(-90)" font-size="9.8" font-weight="bold" text-anchor="middle">IC<tspan font-size="7" dy="2.2">50</tspan><tspan dy="-2.2"> (µg/mL)</tspan></text>
<line x1="506.8" y1="238" x2="557.4" y2="213.5" stroke="#000" stroke-width="1.1"/>
<line x1="506.8" y1="240" x2="557.4" y2="220.4" stroke="#000" stroke-width="1.1"/>
<line x1="506.8" y1="242" x2="557.4" y2="230.7" stroke="#000" stroke-width="1.1"/>
<line x1="506.8" y1="258.3" x2="557.4" y2="233.6" stroke="#000" stroke-width="1.1"/>
<line x1="506.8" y1="268.3" x2="557.4" y2="231.5" stroke="#000" stroke-width="1.1"/>
<line x1="511" y1="210.3" x2="523.2" y2="199.8" stroke="#000" stroke-width="1.2" stroke-dasharray="1.2,1.6"/>
<line x1="509" y1="235.5" x2="533.8" y2="200.8" stroke="#000" stroke-width="1.2" stroke-dasharray="1.2,1.6"/>
<line x1="509.8" y1="235.8" x2="536.5" y2="199.3" stroke="#000" stroke-width="1.2" stroke-dasharray="1.2,1.6"/>
<rect x="504.50" y="211.70" width="4.6" height="4.6" fill="#c4c4c4" stroke="#000" stroke-width="1.2"/>
<rect x="504.45" y="235.65" width="4.7" height="4.7" fill="#000"/>
<circle cx="557.4" cy="213.5" r="2.2" fill="none" stroke="#000" stroke-width="1.2"/>
<path d="M506.8,242.90 L509.70,237.90 L503.90,237.90 Z" fill="#000"/>
<path d="M557.4,222.90 L560.00,218.50 L554.80,218.50 Z" fill="none" stroke="#000" stroke-width="1.1"/>
<path d="M506.8,239.30 L509.30,242 L506.8,244.70 L504.30,242 Z" fill="#000"/>
<circle cx="557.4" cy="230.7" r="2.5" fill="#000"/>
<path d="M506.8,255.80 L509.40,260.20 L504.20,260.20 Z" fill="none" stroke="#000" stroke-width="1.1" stroke-linejoin="miter"/>
<path d="M557.4,231.10 L560.00,235.50 L554.80,235.50 Z" fill="none" stroke="#000" stroke-width="1.1" stroke-linejoin="miter"/>
<circle cx="506.8" cy="268.3" r="2.5" fill="#000"/>
<path d="M557.4,228.60 L560.30,233.60 L554.50,233.60 Z" fill="#000"/>
<text x="135.2" y="351.30" font-size="11.2" font-weight="bold" text-anchor="middle">PGDM1400</text>
<line x1="76.2" y1="365.75" x2="76.2" y2="482.5" stroke="#000" stroke-width="1.3"/>
<line x1="71.2" y1="482.5" x2="195.2" y2="482.5" stroke="#000" stroke-width="1.3"/>
<line x1="71.2" y1="482.50" x2="76.2" y2="482.50" stroke="#000" stroke-width="1"/>
<line x1="73.60000000000001" y1="473.05" x2="76.2" y2="473.05" stroke="#000" stroke-width="1"/>
<line x1="73.60000000000001" y1="467.52" x2="76.2" y2="467.52" stroke="#000" stroke-width="1"/>
<line x1="73.60000000000001" y1="463.60" x2="76.2" y2="463.60" stroke="#000" stroke-width="1"/>
<line x1="73.60000000000001" y1="460.55" x2="76.2" y2="460.55" stroke="#000" stroke-width="1"/>
<line x1="73.60000000000001" y1="458.07" x2="76.2" y2="458.07" stroke="#000" stroke-width="1"/>
<line x1="73.60000000000001" y1="455.96" x2="76.2" y2="455.96" stroke="#000" stroke-width="1"/>
<line x1="73.60000000000001" y1="454.14" x2="76.2" y2="454.14" stroke="#000" stroke-width="1"/>
<line x1="73.60000000000001" y1="452.54" x2="76.2" y2="452.54" stroke="#000" stroke-width="1"/>
<line x1="71.2" y1="451.10" x2="76.2" y2="451.10" stroke="#000" stroke-width="1"/>
<line x1="73.60000000000001" y1="441.65" x2="76.2" y2="441.65" stroke="#000" stroke-width="1"/>
<line x1="73.60000000000001" y1="436.12" x2="76.2" y2="436.12" stroke="#000" stroke-width="1"/>
<line x1="73.60000000000001" y1="432.20" x2="76.2" y2="432.20" stroke="#000" stroke-width="1"/>
<line x1="73.60000000000001" y1="429.15" x2="76.2" y2="429.15" stroke="#000" stroke-width="1"/>
<line x1="73.60000000000001" y1="426.67" x2="76.2" y2="426.67" stroke="#000" stroke-width="1"/>
<line x1="73.60000000000001" y1="424.56" x2="76.2" y2="424.56" stroke="#000" stroke-width="1"/>
<line x1="73.60000000000001" y1="422.74" x2="76.2" y2="422.74" stroke="#000" stroke-width="1"/>
<line x1="73.60000000000001" y1="421.14" x2="76.2" y2="421.14" stroke="#000" stroke-width="1"/>
<line x1="71.2" y1="419.70" x2="76.2" y2="419.70" stroke="#000" stroke-width="1"/>
<line x1="73.60000000000001" y1="410.25" x2="76.2" y2="410.25" stroke="#000" stroke-width="1"/>
<line x1="73.60000000000001" y1="404.72" x2="76.2" y2="404.72" stroke="#000" stroke-width="1"/>
<line x1="73.60000000000001" y1="400.80" x2="76.2" y2="400.80" stroke="#000" stroke-width="1"/>
<line x1="73.60000000000001" y1="397.75" x2="76.2" y2="397.75" stroke="#000" stroke-width="1"/>
<line x1="73.60000000000001" y1="395.27" x2="76.2" y2="395.27" stroke="#000" stroke-width="1"/>
<line x1="73.60000000000001" y1="393.16" x2="76.2" y2="393.16" stroke="#000" stroke-width="1"/>
<line x1="73.60000000000001" y1="391.34" x2="76.2" y2="391.34" stroke="#000" stroke-width="1"/>
<line x1="73.60000000000001" y1="389.74" x2="76.2" y2="389.74" stroke="#000" stroke-width="1"/>
<line x1="71.2" y1="388.30" x2="76.2" y2="388.30" stroke="#000" stroke-width="1"/>
<line x1="73.60000000000001" y1="378.85" x2="76.2" y2="378.85" stroke="#000" stroke-width="1"/>
<line x1="73.60000000000001" y1="373.32" x2="76.2" y2="373.32" stroke="#000" stroke-width="1"/>
<line x1="73.60000000000001" y1="369.40" x2="76.2" y2="369.40" stroke="#000" stroke-width="1"/>
<line x1="73.60000000000001" y1="366.35" x2="76.2" y2="366.35" stroke="#000" stroke-width="1"/>
<text x="69.4" y="485.70" font-size="8.6" font-weight="bold" text-anchor="end">0.001</text>
<text x="69.4" y="454.30" font-size="8.6" font-weight="bold" text-anchor="end">0.01</text>
<text x="69.4" y="422.90" font-size="8.6" font-weight="bold" text-anchor="end">0.1</text>
<text x="69.4" y="391.50" font-size="8.6" font-weight="bold" text-anchor="end">1</text>
<line x1="109.7" y1="482.5" x2="109.7" y2="487.0" stroke="#000" stroke-width="1.1"/>
<line x1="160.3" y1="482.5" x2="160.3" y2="487.0" stroke="#000" stroke-width="1.1"/>
<text x="109.7" y="496.50" font-size="8.85" font-weight="bold" text-anchor="middle">Traditional</text>
<text x="160.3" y="496.50" font-size="8.85" font-weight="bold" text-anchor="middle">Linker</text>
<text transform="translate(41.400000000000006,424.43) rotate(-90)" font-size="9.8" font-weight="bold" text-anchor="middle">IC<tspan font-size="7" dy="2.2">50</tspan><tspan dy="-2.2"> (µg/mL)</tspan></text>
<line x1="109.7" y1="410" x2="160.3" y2="409.2" stroke="#000" stroke-width="1.1"/>
<line x1="109.7" y1="413.2" x2="160.3" y2="417.2" stroke="#000" stroke-width="1.1"/>
<line x1="109.7" y1="425.3" x2="160.3" y2="443.8" stroke="#000" stroke-width="1.1"/>
<line x1="109.7" y1="446.2" x2="160.3" y2="443.8" stroke="#000" stroke-width="1.1"/>
<line x1="109.7" y1="455.6" x2="160.3" y2="451.2" stroke="#000" stroke-width="1.1"/>
<line x1="109.7" y1="457.6" x2="160.3" y2="460.4" stroke="#000" stroke-width="1.1"/>
<line x1="109.7" y1="466.5" x2="160.3" y2="467.6" stroke="#000" stroke-width="1.1"/>
<line x1="109.7" y1="468.5" x2="160.3" y2="465.2" stroke="#000" stroke-width="1.1"/>
<line x1="109.7" y1="470" x2="160.3" y2="469.5" stroke="#000" stroke-width="1.1"/>
<line x1="109.7" y1="471" x2="160.3" y2="471" stroke="#000" stroke-width="1.1"/>
<rect x="107.50" y="407.80" width="4.4" height="4.4" fill="none" stroke="#000" stroke-width="1.2"/>
<rect x="158.10" y="407.00" width="4.4" height="4.4" fill="none" stroke="#000" stroke-width="1.2"/>
<circle cx="109.7" cy="413.2" r="2.5" fill="#000"/>
<circle cx="160.3" cy="417.2" r="2.5" fill="#000"/>
<path d="M109.7,422.60 L112.20,425.3 L109.7,428.00 L107.20,425.3 Z" fill="#000"/>
<path d="M160.3,441.10 L162.80,443.8 L160.3,446.50 L157.80,443.8 Z" fill="#000"/>
<path d="M109.7,449.10 L112.60,444.10 L106.80,444.10 Z" fill="#000"/>
<path d="M160.3,446.70 L163.20,441.70 L157.40,441.70 Z" fill="#000"/>
<path d="M109.7,452.70 L112.60,457.70 L106.80,457.70 Z" fill="#000"/>
<path d="M160.3,448.30 L163.20,453.30 L157.40,453.30 Z" fill="#000"/>
<rect x="107.35" y="455.25" width="4.7" height="4.7" fill="#000"/>
<path d="M160.3,457.90 L162.90,462.30 L157.70,462.30 Z" fill="none" stroke="#000" stroke-width="1.1" stroke-linejoin="miter"/>
<circle cx="109.7" cy="466.5" r="2.2" fill="none" stroke="#000" stroke-width="1.2"/>
<circle cx="160.3" cy="467.6" r="2.2" fill="none" stroke="#000" stroke-width="1.2"/>
<rect x="107.35" y="466.15" width="4.7" height="4.7" fill="#000"/>
<path d="M160.3,467.70 L162.90,463.30 L157.70,463.30 Z" fill="none" stroke="#000" stroke-width="1.1"/>
<circle cx="109.7" cy="470" r="2.5" fill="#000"/>
<circle cx="160.3" cy="469.5" r="2.5" fill="#000"/>
<rect x="107.35" y="468.65" width="4.7" height="4.7" fill="#000"/>
<rect x="157.95" y="468.65" width="4.7" height="4.7" fill="#000"/>
<text x="334" y="351.30" font-size="11.2" font-weight="bold" text-anchor="middle">CAP256V2LS</text>
<line x1="275" y1="365.75" x2="275" y2="482.5" stroke="#000" stroke-width="1.3"/>
<line x1="270" y1="482.5" x2="394" y2="482.5" stroke="#000" stroke-width="1.3"/>
<line x1="270" y1="482.50" x2="275" y2="482.50" stroke="#000" stroke-width="1"/>
<line x1="272.4" y1="473.05" x2="275" y2="473.05" stroke="#000" stroke-width="1"/>
<line x1="272.4" y1="467.52" x2="275" y2="467.52" stroke="#000" stroke-width="1"/>
<line x1="272.4" y1="463.60" x2="275" y2="463.60" stroke="#000" stroke-width="1"/>
<line x1="272.4" y1="460.55" x2="275" y2="460.55" stroke="#000" stroke-width="1"/>
<line x1="272.4" y1="458.07" x2="275" y2="458.07" stroke="#000" stroke-width="1"/>
<line x1="272.4" y1="455.96" x2="275" y2="455.96" stroke="#000" stroke-width="1"/>
<line x1="272.4" y1="454.14" x2="275" y2="454.14" stroke="#000" stroke-width="1"/>
<line x1="272.4" y1="452.54" x2="275" y2="452.54" stroke="#000" stroke-width="1"/>
<line x1="270" y1="451.10" x2="275" y2="451.10" stroke="#000" stroke-width="1"/>
<line x1="272.4" y1="441.65" x2="275" y2="441.65" stroke="#000" stroke-width="1"/>
<line x1="272.4" y1="436.12" x2="275" y2="436.12" stroke="#000" stroke-width="1"/>
<line x1="272.4" y1="432.20" x2="275" y2="432.20" stroke="#000" stroke-width="1"/>
<line x1="272.4" y1="429.15" x2="275" y2="429.15" stroke="#000" stroke-width="1"/>
<line x1="272.4" y1="426.67" x2="275" y2="426.67" stroke="#000" stroke-width="1"/>
<line x1="272.4" y1="424.56" x2="275" y2="424.56" stroke="#000" stroke-width="1"/>
<line x1="272.4" y1="422.74" x2="275" y2="422.74" stroke="#000" stroke-width="1"/>
<line x1="272.4" y1="421.14" x2="275" y2="421.14" stroke="#000" stroke-width="1"/>
<line x1="270" y1="419.70" x2="275" y2="419.70" stroke="#000" stroke-width="1"/>
<line x1="272.4" y1="410.25" x2="275" y2="410.25" stroke="#000" stroke-width="1"/>
<line x1="272.4" y1="404.72" x2="275" y2="404.72" stroke="#000" stroke-width="1"/>
<line x1="272.4" y1="400.80" x2="275" y2="400.80" stroke="#000" stroke-width="1"/>
<line x1="272.4" y1="397.75" x2="275" y2="397.75" stroke="#000" stroke-width="1"/>
<line x1="272.4" y1="395.27" x2="275" y2="395.27" stroke="#000" stroke-width="1"/>
<line x1="272.4" y1="393.16" x2="275" y2="393.16" stroke="#000" stroke-width="1"/>
<line x1="272.4" y1="391.34" x2="275" y2="391.34" stroke="#000" stroke-width="1"/>
<line x1="272.4" y1="389.74" x2="275" y2="389.74" stroke="#000" stroke-width="1"/>
<line x1="270" y1="388.30" x2="275" y2="388.30" stroke="#000" stroke-width="1"/>
<line x1="272.4" y1="378.85" x2="275" y2="378.85" stroke="#000" stroke-width="1"/>
<line x1="272.4" y1="373.32" x2="275" y2="373.32" stroke="#000" stroke-width="1"/>
<line x1="272.4" y1="369.40" x2="275" y2="369.40" stroke="#000" stroke-width="1"/>
<line x1="272.4" y1="366.35" x2="275" y2="366.35" stroke="#000" stroke-width="1"/>
<text x="268.2" y="485.70" font-size="8.6" font-weight="bold" text-anchor="end">0.001</text>
<text x="268.2" y="454.30" font-size="8.6" font-weight="bold" text-anchor="end">0.01</text>
<text x="268.2" y="422.90" font-size="8.6" font-weight="bold" text-anchor="end">0.1</text>
<text x="268.2" y="391.50" font-size="8.6" font-weight="bold" text-anchor="end">1</text>
<line x1="308.5" y1="482.5" x2="308.5" y2="487.0" stroke="#000" stroke-width="1.1"/>
<line x1="359.1" y1="482.5" x2="359.1" y2="487.0" stroke="#000" stroke-width="1.1"/>
<text x="308.5" y="496.50" font-size="8.85" font-weight="bold" text-anchor="middle">Traditional</text>
<text x="359.1" y="496.50" font-size="8.85" font-weight="bold" text-anchor="middle">Linker</text>
<text transform="translate(240.2,424.43) rotate(-90)" font-size="9.8" font-weight="bold" text-anchor="middle">IC<tspan font-size="7" dy="2.2">50</tspan><tspan dy="-2.2"> (µg/mL)</tspan></text>
<line x1="308.5" y1="442" x2="359.1" y2="434.4" stroke="#000" stroke-width="1.1"/>
<line x1="308.5" y1="451.1" x2="359.1" y2="452.1" stroke="#000" stroke-width="1.1"/>
<line x1="308.5" y1="459.6" x2="359.1" y2="462" stroke="#000" stroke-width="1.1"/>
<line x1="308.5" y1="472" x2="359.1" y2="468.1" stroke="#000" stroke-width="1.1"/>
<line x1="308.5" y1="474.6" x2="359.1" y2="476" stroke="#000" stroke-width="1.1"/>
<line x1="308.5" y1="478.2" x2="359.1" y2="477.6" stroke="#000" stroke-width="1.1"/>
<line x1="308.5" y1="481.4" x2="359.1" y2="480.2" stroke="#000" stroke-width="1.1"/>
<line x1="308.5" y1="481.4" x2="359.1" y2="481.4" stroke="#000" stroke-width="1.1"/>
<rect x="306.30" y="439.80" width="4.4" height="4.4" fill="none" stroke="#000" stroke-width="1.2"/>
<rect x="356.90" y="432.20" width="4.4" height="4.4" fill="none" stroke="#000" stroke-width="1.2"/>
<circle cx="308.5" cy="451.1" r="2.2" fill="none" stroke="#000" stroke-width="1.2"/>
<circle cx="359.1" cy="452.1" r="2.2" fill="none" stroke="#000" stroke-width="1.2"/>
<path d="M308.5,456.90 L311.00,459.6 L308.5,462.30 L306.00,459.6 Z" fill="#000"/>
<path d="M359.1,459.30 L361.60,462 L359.1,464.70 L356.60,462 Z" fill="#000"/>
<path d="M308.5,469.50 L311.10,473.90 L305.90,473.90 Z" fill="none" stroke="#000" stroke-width="1.1" stroke-linejoin="miter"/>
<path d="M359.1,465.60 L361.70,470.00 L356.50,470.00 Z" fill="none" stroke="#000" stroke-width="1.1" stroke-linejoin="miter"/>
<path d="M308.5,471.70 L311.40,476.70 L305.60,476.70 Z" fill="#000"/>
<path d="M359.1,473.30 L361.60,476 L359.1,478.70 L356.60,476 Z" fill="#000"/>
<rect x="306.15" y="475.85" width="4.7" height="4.7" fill="#000"/>
<circle cx="359.1" cy="477.6" r="2.5" fill="#000"/>
<circle cx="308.5" cy="481.4" r="2.5" fill="#000"/>
<rect x="356.75" y="477.85" width="4.7" height="4.7" fill="#000"/>
<rect x="306.15" y="479.05" width="4.7" height="4.7" fill="#000"/>
<path d="M359.1,484.30 L362.00,479.30 L356.20,479.30 Z" fill="#000"/>
<text x="532.3" y="351.30" font-size="11.2" font-weight="bold" text-anchor="middle">1-18</text>
<line x1="473.3" y1="365.75" x2="473.3" y2="482.5" stroke="#000" stroke-width="1.3"/>
<line x1="468.3" y1="482.5" x2="592.3" y2="482.5" stroke="#000" stroke-width="1.3"/>
<line x1="468.3" y1="482.50" x2="473.3" y2="482.50" stroke="#000" stroke-width="1"/>
<line x1="470.7" y1="473.05" x2="473.3" y2="473.05" stroke="#000" stroke-width="1"/>
<line x1="470.7" y1="467.52" x2="473.3" y2="467.52" stroke="#000" stroke-width="1"/>
<line x1="470.7" y1="463.60" x2="473.3" y2="463.60" stroke="#000" stroke-width="1"/>
<line x1="470.7" y1="460.55" x2="473.3" y2="460.55" stroke="#000" stroke-width="1"/>
<line x1="470.7" y1="458.07" x2="473.3" y2="458.07" stroke="#000" stroke-width="1"/>
<line x1="470.7" y1="455.96" x2="473.3" y2="455.96" stroke="#000" stroke-width="1"/>
<line x1="470.7" y1="454.14" x2="473.3" y2="454.14" stroke="#000" stroke-width="1"/>
<line x1="470.7" y1="452.54" x2="473.3" y2="452.54" stroke="#000" stroke-width="1"/>
<line x1="468.3" y1="451.10" x2="473.3" y2="451.10" stroke="#000" stroke-width="1"/>
<line x1="470.7" y1="441.65" x2="473.3" y2="441.65" stroke="#000" stroke-width="1"/>
<line x1="470.7" y1="436.12" x2="473.3" y2="436.12" stroke="#000" stroke-width="1"/>
<line x1="470.7" y1="432.20" x2="473.3" y2="432.20" stroke="#000" stroke-width="1"/>
<line x1="470.7" y1="429.15" x2="473.3" y2="429.15" stroke="#000" stroke-width="1"/>
<line x1="470.7" y1="426.67" x2="473.3" y2="426.67" stroke="#000" stroke-width="1"/>
<line x1="470.7" y1="424.56" x2="473.3" y2="424.56" stroke="#000" stroke-width="1"/>
<line x1="470.7" y1="422.74" x2="473.3" y2="422.74" stroke="#000" stroke-width="1"/>
<line x1="470.7" y1="421.14" x2="473.3" y2="421.14" stroke="#000" stroke-width="1"/>
<line x1="468.3" y1="419.70" x2="473.3" y2="419.70" stroke="#000" stroke-width="1"/>
<line x1="470.7" y1="410.25" x2="473.3" y2="410.25" stroke="#000" stroke-width="1"/>
<line x1="470.7" y1="404.72" x2="473.3" y2="404.72" stroke="#000" stroke-width="1"/>
<line x1="470.7" y1="400.80" x2="473.3" y2="400.80" stroke="#000" stroke-width="1"/>
<line x1="470.7" y1="397.75" x2="473.3" y2="397.75" stroke="#000" stroke-width="1"/>
<line x1="470.7" y1="395.27" x2="473.3" y2="395.27" stroke="#000" stroke-width="1"/>
<line x1="470.7" y1="393.16" x2="473.3" y2="393.16" stroke="#000" stroke-width="1"/>
<line x1="470.7" y1="391.34" x2="473.3" y2="391.34" stroke="#000" stroke-width="1"/>
<line x1="470.7" y1="389.74" x2="473.3" y2="389.74" stroke="#000" stroke-width="1"/>
<line x1="468.3" y1="388.30" x2="473.3" y2="388.30" stroke="#000" stroke-width="1"/>
<line x1="470.7" y1="378.85" x2="473.3" y2="378.85" stroke="#000" stroke-width="1"/>
<line x1="470.7" y1="373.32" x2="473.3" y2="373.32" stroke="#000" stroke-width="1"/>
<line x1="470.7" y1="369.40" x2="473.3" y2="369.40" stroke="#000" stroke-width="1"/>
<line x1="470.7" y1="366.35" x2="473.3" y2="366.35" stroke="#000" stroke-width="1"/>
<text x="466.5" y="485.70" font-size="8.6" font-weight="bold" text-anchor="end">0.001</text>
<text x="466.5" y="454.30" font-size="8.6" font-weight="bold" text-anchor="end">0.01</text>
<text x="466.5" y="422.90" font-size="8.6" font-weight="bold" text-anchor="end">0.1</text>
<text x="466.5" y="391.50" font-size="8.6" font-weight="bold" text-anchor="end">1</text>
<line x1="506.8" y1="482.5" x2="506.8" y2="487.0" stroke="#000" stroke-width="1.1"/>
<line x1="557.4" y1="482.5" x2="557.4" y2="487.0" stroke="#000" stroke-width="1.1"/>
<text x="506.8" y="496.50" font-size="8.85" font-weight="bold" text-anchor="middle">Traditional</text>
<text x="557.4" y="496.50" font-size="8.85" font-weight="bold" text-anchor="middle">Linker</text>
<text transform="translate(438.5,424.43) rotate(-90)" font-size="9.8" font-weight="bold" text-anchor="middle">IC<tspan font-size="7" dy="2.2">50</tspan><tspan dy="-2.2"> (µg/mL)</tspan></text>
<line x1="506.8" y1="419.6" x2="557.4" y2="392.8" stroke="#000" stroke-width="1.1"/>
<line x1="506.8" y1="428" x2="557.4" y2="400" stroke="#000" stroke-width="1.1"/>
<line x1="506.8" y1="430" x2="557.4" y2="404" stroke="#000" stroke-width="1.1"/>
<line x1="506.8" y1="432" x2="557.4" y2="407" stroke="#000" stroke-width="1.1"/>
<line x1="506.8" y1="434" x2="557.4" y2="410" stroke="#000" stroke-width="1.1"/>
<line x1="506.8" y1="436" x2="557.4" y2="413" stroke="#000" stroke-width="1.1"/>
<line x1="506.8" y1="438" x2="557.4" y2="415" stroke="#000" stroke-width="1.1"/>
<line x1="506.8" y1="440" x2="557.4" y2="405" stroke="#000" stroke-width="1.1"/>
<line x1="506.8" y1="441" x2="557.4" y2="422.3" stroke="#000" stroke-width="1.1"/>
<path d="M506.8,416.90 L509.30,419.6 L506.8,422.30 L504.30,419.6 Z" fill="#000"/>
<path d="M557.4,390.10 L559.90,392.8 L557.4,395.50 L554.90,392.8 Z" fill="#000"/>
<rect x="504.45" y="425.65" width="4.7" height="4.7" fill="#000"/>
<path d="M557.4,397.10 L560.30,402.10 L554.50,402.10 Z" fill="#000"/>
<rect x="504.45" y="427.65" width="4.7" height="4.7" fill="#000"/>
<path d="M557.4,401.50 L560.00,405.90 L554.80,405.90 Z" fill="none" stroke="#000" stroke-width="1.1" stroke-linejoin="miter"/>
<circle cx="506.8" cy="432" r="2.5" fill="#000"/>
<circle cx="557.4" cy="407" r="2.2" fill="none" stroke="#000" stroke-width="1.2"/>
<rect x="504.45" y="431.65" width="4.7" height="4.7" fill="#000"/>
<rect x="555.20" y="407.80" width="4.4" height="4.4" fill="none" stroke="#000" stroke-width="1.2"/>
<rect x="504.45" y="433.65" width="4.7" height="4.7" fill="#000"/>
<rect x="555.05" y="410.65" width="4.7" height="4.7" fill="#000"/>
<circle cx="506.8" cy="438" r="2.5" fill="#000"/>
<rect x="555.05" y="412.65" width="4.7" height="4.7" fill="#000"/>
<rect x="504.45" y="437.65" width="4.7" height="4.7" fill="#000"/>
<circle cx="557.4" cy="405" r="2.5" fill="#000"/>
<rect x="504.45" y="438.65" width="4.7" height="4.7" fill="#000"/>
<path d="M557.4,419.40 L560.30,424.40 L554.50,424.40 Z" fill="#000"/>
<rect x="162.8" y="197.3" width="45.79999999999998" height="44.19999999999999" fill="#fff" stroke="#6b7ca3" stroke-width="1.1"/>
<text x="185.7" y="208.3" font-size="8" text-anchor="middle" fill="#1a1a1a" stroke="#1a1a1a" stroke-width="0.18">NN</text>
<line x1="179.90" y1="210.5" x2="191.50" y2="210.5" stroke="#222" stroke-width="0.9"/>
<text x="185.7" y="218.3" font-size="8" text-anchor="middle" fill="#1a1a1a" stroke="#1a1a1a" stroke-width="0.18">246F3</text>
<text x="185.7" y="227.6" font-size="8" text-anchor="middle" fill="#1a1a1a" stroke="#1a1a1a" stroke-width="0.18">X1632</text>
<text x="185.7" y="237.0" font-size="8" text-anchor="middle" fill="#1a1a1a" stroke="#1a1a1a" stroke-width="0.18">CNE55</text>
<rect x="370.5" y="198.2" width="45.89999999999998" height="26.400000000000006" fill="#fff" stroke="#6b7ca3" stroke-width="1.1"/>
<text x="393.45" y="208.3" font-size="8" text-anchor="middle" fill="#1a1a1a" stroke="#1a1a1a" stroke-width="0.18">NN</text>
<line x1="387.65" y1="210.5" x2="399.25" y2="210.5" stroke="#222" stroke-width="0.9"/>
<text x="393.45" y="218.6" font-size="8" text-anchor="middle" fill="#1a1a1a" stroke="#1a1a1a" stroke-width="0.18">X1632</text>
<rect x="562.5" y="198.2" width="45.10000000000002" height="82.40000000000003" fill="#fff" stroke="#6b7ca3" stroke-width="1.1"/>
<text x="585.05" y="208.6" font-size="8" text-anchor="middle" fill="#1a1a1a" stroke="#1a1a1a" stroke-width="0.18">NN</text>
<line x1="579.25" y1="210.5" x2="590.85" y2="210.5" stroke="#222" stroke-width="0.9"/>
<text x="585.05" y="218.6" font-size="8" text-anchor="middle" fill="#1a1a1a" stroke="#1a1a1a" stroke-width="0.18">BJOX2000</text>
<text x="585.05" y="237.3" font-size="8" text-anchor="middle" fill="#1a1a1a" stroke="#1a1a1a" stroke-width="0.18">NN-Linker</text>
<line x1="566.95" y1="239.5" x2="603.15" y2="239.5" stroke="#222" stroke-width="0.9"/>
<text x="585.05" y="247.4" font-size="8" text-anchor="middle" fill="#1a1a1a" stroke="#1a1a1a" stroke-width="0.18">2571</text>
<text x="585.05" y="256.8" font-size="8" text-anchor="middle" fill="#1a1a1a" stroke="#1a1a1a" stroke-width="0.18">X1632</text>
<text x="585.05" y="266.2" font-size="8" text-anchor="middle" fill="#1a1a1a" stroke="#1a1a1a" stroke-width="0.18">CH119</text>
<text x="585.05" y="275.6" font-size="8" text-anchor="middle" fill="#1a1a1a" stroke="#1a1a1a" stroke-width="0.18">CE1176</text>
<rect x="370.7" y="366.8" width="45.5" height="27.0" fill="#fff" stroke="#6b7ca3" stroke-width="1.1"/>
<text x="393.45" y="377" font-size="8" text-anchor="middle" fill="#1a1a1a" stroke="#1a1a1a" stroke-width="0.18">NN</text>
<line x1="387.65" y1="378.5" x2="399.25" y2="378.5" stroke="#222" stroke-width="0.9"/>
<text x="393.45" y="387.5" font-size="8" text-anchor="middle" fill="#1a1a1a" stroke="#1a1a1a" stroke-width="0.18">TRO11</text>
<line x1="615" y1="265.30" x2="628.5" y2="265.30" stroke="#000" stroke-width="1.3"/>
<circle cx="621.8" cy="265.3" r="2.5" fill="#000"/>
<text x="636" y="268.90" font-size="10.3" fill="#1a1a1a">TRO11</text>
<line x1="615" y1="281.75" x2="628.5" y2="281.75" stroke="#000" stroke-width="1.3"/>
<circle cx="621.8" cy="281.75" r="2.2" fill="none" stroke="#000" stroke-width="1.2"/>
<text x="636" y="285.35" font-size="10.3" fill="#1a1a1a">246F3</text>
<line x1="615" y1="298.20" x2="628.5" y2="298.20" stroke="#000" stroke-width="1.3"/>
<rect x="619.60" y="296.00" width="4.4" height="4.4" fill="none" stroke="#000" stroke-width="1.2"/>
<text x="636" y="301.80" font-size="10.3" fill="#1a1a1a">CH119</text>
<line x1="615" y1="314.65" x2="628.5" y2="314.65" stroke="#000" stroke-width="1.3"/>
<path d="M621.8,312.15 L624.40,316.55 L619.20,316.55 Z" fill="none" stroke="#000" stroke-width="1.1" stroke-linejoin="miter"/>
<text x="636" y="318.25" font-size="10.3" fill="#1a1a1a">CE0217</text>
<line x1="615" y1="331.10" x2="628.5" y2="331.10" stroke="#000" stroke-width="1.3"/>
<rect x="619.45" y="328.75" width="4.7" height="4.7" fill="#000"/>
<text x="636" y="334.70" font-size="10.3" fill="#1a1a1a">25710</text>
<line x1="615" y1="347.55" x2="628.5" y2="347.55" stroke="#000" stroke-width="1.3"/>
<path d="M621.8,344.65 L624.70,349.65 L618.90,349.65 Z" fill="#000"/>
<text x="636" y="351.15" font-size="10.3" fill="#1a1a1a">BJOX2000</text>
<line x1="615" y1="364.00" x2="628.5" y2="364.00" stroke="#000" stroke-width="1.3"/>
<path d="M621.8,366.90 L624.70,361.90 L618.90,361.90 Z" fill="#000"/>
<text x="636" y="367.60" font-size="10.3" fill="#1a1a1a">X1632</text>
<line x1="615" y1="380.45" x2="628.5" y2="380.45" stroke="#000" stroke-width="1.3"/>
<path d="M621.8,377.75 L624.30,380.45 L621.8,383.15 L619.30,380.45 Z" fill="#000"/>
<text x="636" y="384.05" font-size="10.3" fill="#1a1a1a">CE1176</text>
<line x1="615" y1="396.90" x2="628.5" y2="396.90" stroke="#000" stroke-width="1.3"/>
<path d="M621.8,399.40 L624.40,395.00 L619.20,395.00 Z" fill="none" stroke="#000" stroke-width="1.1"/>
<text x="636" y="400.50" font-size="10.3" fill="#1a1a1a">CNE55</text>
</svg></body></html>
